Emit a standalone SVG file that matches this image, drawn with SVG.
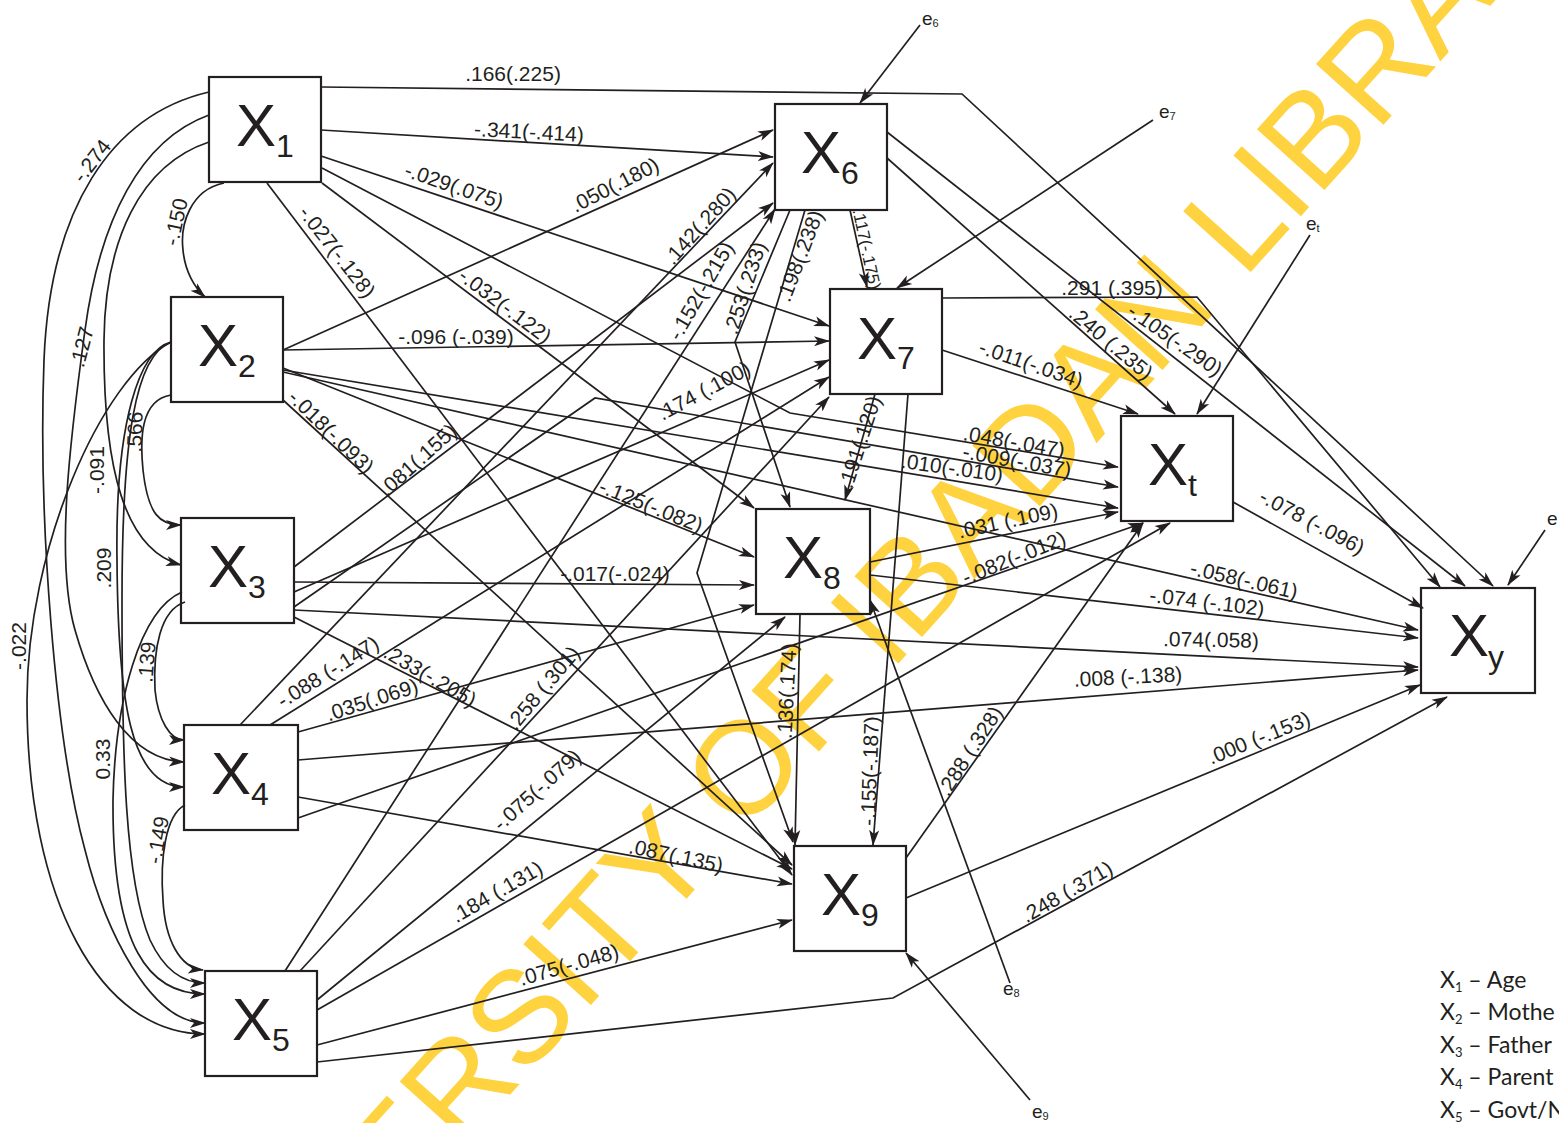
<svg xmlns="http://www.w3.org/2000/svg" width="1559" height="1123" viewBox="0 0 1559 1123">
<defs>
<marker id="ah" markerUnits="userSpaceOnUse" markerWidth="16" markerHeight="12" viewBox="0 0 16 12" refX="15" refY="6" orient="auto"><path d="M0,1 L16,6 L0,11 L4,6 z" fill="#231f20"/></marker>
</defs>
<style>
.wm{font-family:"Liberation Sans",Arial,sans-serif;font-size:132px;fill:#FFD23F}
.c{fill:none;stroke:#231f20;stroke-width:1.7;marker-end:url(#ah)}
.n{fill:none;stroke:#231f20;stroke-width:2.2}
.X{font-family:"Liberation Sans",Arial,sans-serif;font-size:60px;fill:#231f20}
.s{font-size:32px}
.l{font-family:"Liberation Sans",Arial,sans-serif;font-size:21px;fill:#231f20;text-anchor:middle}
.sm{font-size:17px}
.e{font-family:"Liberation Sans",Arial,sans-serif;font-size:19px;fill:#231f20}
.es{font-size:11px}
.lg{font-family:Lato,"Liberation Sans",sans-serif;font-size:23px;fill:#231f20}
.lgs{font-size:13px}
</style>
<text class="wm" transform="translate(190,1450) rotate(-48)">UNIVERSITY OF IBADAN LIBRARY</text>
<g id="connectors">
<path class="c" d="M224,183 C190,190 180,225 183,250 C185,272 195,288 205,297"/>
<path class="c" d="M209,142 C140,165 105,240 104,340 C103,470 125,550 181,565"/>
<path class="c" d="M209,115 C140,140 100,220 85,330 C70,440 55,560 75,630 C95,700 130,760 184,762"/>
<path class="c" d="M209,92 C110,115 50,210 44,360 C38,520 55,740 85,850 C105,930 150,1023 205,1023"/>
<path class="c" d="M171,395 C140,400 140,440 143,470 C148,515 160,525 181,525"/>
<path class="c" d="M171,342 C140,350 115,420 117,560 C118,700 130,787 184,787"/>
<path class="c" d="M171,342 C135,355 122,440 122,600 C122,760 125,880 150,940 C165,972 185,983 205,983"/>
<path class="c" d="M171,342 C100,380 27,550 27,700 C27,900 100,1034 205,1034"/>
<path class="c" d="M182,592 C140,610 115,700 113,800 C112,950 150,994 205,994"/>
<path class="c" d="M185,602 C160,610 153,650 155,690 C158,720 170,740 184,740"/>
<path class="c" d="M185,805 C165,815 160,860 163,900 C165,940 180,968 203,970"/>
<path class="c" d="M321,87 L962,94 L1493,586"/>
<path class="c" d="M321,130 L773,157"/>
<path class="c" d="M321,156 L829,326"/>
<path class="c" d="M322,183 L754,508"/>
<path class="c" d="M267,183 L792,875"/>
<path class="c" d="M322,168 L790,413 L1118,467"/>
<path class="c" d="M283,350 L773,130"/>
<path class="c" d="M283,350 L829,341"/>
<path class="c" d="M283,368 L754,557"/>
<path class="c" d="M283,400 L792,865"/>
<path class="c" d="M283,370 L1118,508"/>
<path class="c" d="M283,372 L1418,630"/>
<path class="c" d="M294,567 L773,203"/>
<path class="c" d="M294,592 L829,360"/>
<path class="c" d="M294,582 L754,585"/>
<path class="c" d="M294,617 L792,869"/>
<path class="c" d="M294,607 L595,398 L1118,487"/>
<path class="c" d="M294,610 L1418,667"/>
<path class="c" d="M240,725 L773,163"/>
<path class="c" d="M270,725 L829,377"/>
<path class="c" d="M298,732 L754,605"/>
<path class="c" d="M298,797 L792,884"/>
<path class="c" d="M298,818 L1143,523"/>
<path class="c" d="M298,760 L1418,670"/>
<path class="c" d="M285,971 L775,209"/>
<path class="c" d="M300,971 L829,397"/>
<path class="c" d="M317,1000 L785,617"/>
<path class="c" d="M317,1045 L792,920"/>
<path class="c" d="M317,1010 L1170,523"/>
<path class="c" d="M317,1062 L893,998 L1447,697"/>
<path class="c" d="M850,210 L867,287"/>
<path class="c" d="M790,210 L735,342 L790,507"/>
<path class="c" d="M805,210 L697,573 L793,842"/>
<path class="c" d="M887,158 L1175,414"/>
<path class="c" d="M887,132 L1465,586"/>
<path class="c" d="M875,394 L845,500"/>
<path class="c" d="M908,394 L873,845"/>
<path class="c" d="M942,350 L1138,414"/>
<path class="c" d="M942,298 L1197,297 L1440,587"/>
<path class="c" d="M800,614 L795,845"/>
<path class="c" d="M870,562 L1118,512"/>
<path class="c" d="M870,575 L1418,638"/>
<path class="c" d="M906,858 L1143,523"/>
<path class="c" d="M906,898 L1420,685"/>
<path class="c" d="M1233,502 L1423,608"/>
<path class="c" d="M920,25 L860,103"/>
<path class="c" d="M1153,120 L897,288"/>
<path class="c" d="M1310,235 L1197,414"/>
<path class="c" d="M1010,983 L870,600"/>
<path class="c" d="M1030,1100 L906,953"/>
<path class="c" d="M1545,530 L1508,585"/>
</g>
<g id="labels">
<text class="l" transform="translate(176,222) rotate(-78)" y="7">-.150</text>
<text class="l" transform="translate(92,161) rotate(-52)" y="7">-.274</text>
<text class="l" transform="translate(82,347) rotate(-75)" y="7">.127</text>
<text class="l" transform="translate(97,470) rotate(-90)" y="7">-.091</text>
<text class="l" transform="translate(135,432) rotate(-88)" y="7">.566</text>
<text class="l" transform="translate(104,568) rotate(-90)" y="7">.209</text>
<text class="l" transform="translate(19,646) rotate(-90)" y="7">-.022</text>
<text class="l" transform="translate(147,662) rotate(-85)" y="7">.139</text>
<text class="l" transform="translate(103,759) rotate(-90)" y="7">0.33</text>
<text class="l" transform="translate(158,840) rotate(-80)" y="7">-.149</text>
<text class="l" transform="translate(513,74)" y="7">.166(.225)</text>
<text class="l" transform="translate(529,132) rotate(3)" y="7">-.341(-.414)</text>
<text class="l" transform="translate(454,186) rotate(19)" y="7">-.029(.075)</text>
<text class="l" transform="translate(615,185) rotate(-27)" y="7">.050(.180)</text>
<text class="l" transform="translate(700,226) rotate(-48)" y="7">.142(.280)</text>
<text class="l" transform="translate(701,291) rotate(-60)" y="7">-.152(-.215)</text>
<text class="l" transform="translate(745,288) rotate(-72)" y="7">.253(.233)</text>
<text class="l" transform="translate(800,256) rotate(-69)" y="7">.198(.238)</text>
<text class="l sm" transform="translate(867,249) rotate(78)" y="6">.117(-.175)</text>
<text class="l" transform="translate(505,306) rotate(37)" y="7">-.032(-.122)</text>
<text class="l" transform="translate(337,252) rotate(52)" y="7">-.027(-.128)</text>
<text class="l" transform="translate(456,337)" y="7">-.096 (-.039)</text>
<text class="l" transform="translate(331,432) rotate(44)" y="7">-.018(-.093)</text>
<text class="l" transform="translate(418,460) rotate(-42)" y="7">.081(.155)</text>
<text class="l" transform="translate(704,391) rotate(-28)" y="7">.174 (.100)</text>
<text class="l" transform="translate(651,506) rotate(22)" y="7">-.125(-.082)</text>
<text class="l" transform="translate(615,574)" y="7">-.017(-.024)</text>
<text class="l" transform="translate(1014,442) rotate(10)" y="7">.048(-.047)</text>
<text class="l" transform="translate(1017,461) rotate(10)" y="7">-.009(-.037)</text>
<text class="l" transform="translate(952,468) rotate(8)" y="7">.010(-.010)</text>
<text class="l" transform="translate(860,442) rotate(-72)" y="7">.191(.120)</text>
<text class="l" transform="translate(1031,364) rotate(19)" y="7">-.011(-.034)</text>
<text class="l" transform="translate(1112,288)" y="7">.291 (.395)</text>
<text class="l" transform="translate(1111,343) rotate(40)" y="7">.240 (.235)</text>
<text class="l" transform="translate(1175,340) rotate(35)" y="7">-.105(-.290)</text>
<text class="l" transform="translate(1008,521) rotate(-12)" y="7">.031 (.109)</text>
<text class="l" transform="translate(1014,558) rotate(-22)" y="7">-.082(-.012)</text>
<text class="l" transform="translate(1312,522) rotate(28)" y="7">-.078 (-.096)</text>
<text class="l" transform="translate(1244,580) rotate(13)" y="7">-.058(-.061)</text>
<text class="l" transform="translate(1207,602) rotate(7)" y="7">-.074 (-.102)</text>
<text class="l" transform="translate(1211,640) rotate(1)" y="7">.074(.058)</text>
<text class="l" transform="translate(1128,677) rotate(-3)" y="7">.008 (-.138)</text>
<text class="l" transform="translate(1259,738) rotate(-22)" y="7">.000 (-.153)</text>
<text class="l" transform="translate(1067,892) rotate(-30)" y="7">.248 (.371)</text>
<text class="l" transform="translate(970,751) rotate(-57)" y="7">.288 (.328)</text>
<text class="l" transform="translate(870,771) rotate(-88)" y="7">-.155(-.187)</text>
<text class="l" transform="translate(787,691) rotate(-87)" y="7">.136(.174)</text>
<text class="l" transform="translate(328,672) rotate(-32)" y="7">-.088 (-.147)</text>
<text class="l" transform="translate(372,700) rotate(-18)" y="7">.035(.069)</text>
<text class="l" transform="translate(430,676) rotate(30)" y="7">.233(-.205)</text>
<text class="l" transform="translate(543,688) rotate(-50)" y="7">.258 (.301)</text>
<text class="l" transform="translate(537,790) rotate(-42)" y="7">-.075(-.079)</text>
<text class="l" transform="translate(676,856) rotate(12)" y="7">.087(.135)</text>
<text class="l" transform="translate(497,892) rotate(-30)" y="7">.184 (.131)</text>
<text class="l" transform="translate(569,965) rotate(-16)" y="7">.075(-.048)</text>
</g>
<g id="X1"><rect class="n" x="209" y="77" width="112" height="105"/><text class="X" x="236" y="146">X</text><text class="X s" x="276" y="157">1</text></g>
<g id="X2"><rect class="n" x="171" y="297" width="112" height="105"/><text class="X" x="198" y="366">X</text><text class="X s" x="238" y="377">2</text></g>
<g id="X3"><rect class="n" x="181" y="518" width="113" height="105"/><text class="X" x="208" y="587">X</text><text class="X s" x="248" y="598">3</text></g>
<g id="X4"><rect class="n" x="184" y="725" width="114" height="105"/><text class="X" x="211" y="794">X</text><text class="X s" x="251" y="805">4</text></g>
<g id="X5"><rect class="n" x="205" y="971" width="112" height="105"/><text class="X" x="232" y="1040">X</text><text class="X s" x="272" y="1051">5</text></g>
<g id="X6"><rect class="n" x="775" y="104" width="112" height="106"/><text class="X" x="801" y="173">X</text><text class="X s" x="841" y="184">6</text></g>
<g id="X7"><rect class="n" x="830" y="289" width="112" height="105"/><text class="X" x="857" y="359">X</text><text class="X s" x="897" y="369">7</text></g>
<g id="X8"><rect class="n" x="756" y="509" width="114" height="105"/><text class="X" x="783" y="578">X</text><text class="X s" x="823" y="589">8</text></g>
<g id="X9"><rect class="n" x="794" y="846" width="112" height="105"/><text class="X" x="821" y="915">X</text><text class="X s" x="861" y="926">9</text></g>
<g id="Xt"><rect class="n" x="1121" y="416" width="112" height="105"/><text class="X" x="1148" y="485">X</text><text class="X s" x="1188" y="496">t</text></g>
<g id="Xy"><rect class="n" x="1421" y="588" width="114" height="105"/><text class="X" x="1449" y="656">X</text><text class="X s" x="1488" y="668">y</text></g>
<g id="errors">
<text class="e" x="922" y="25">e<tspan class="es" dy="2">6</tspan></text>
<text class="e" x="1159" y="118">e<tspan class="es" dy="2">7</tspan></text>
<text class="e" x="1306" y="230">e<tspan class="es" dy="2">t</tspan></text>
<text class="e" x="1003" y="995">e<tspan class="es" dy="2">8</tspan></text>
<text class="e" x="1032" y="1118">e<tspan class="es" dy="2">9</tspan></text>
<text class="e" x="1547" y="525">e</text>
</g>
<g id="legend">
<text class="lg" x="1440" y="988">X<tspan class="lgs" dy="4">1</tspan><tspan dy="-4"> – Age</tspan></text>
<text class="lg" x="1440" y="1020">X<tspan class="lgs" dy="4">2</tspan><tspan dy="-4"> – Mothe</tspan></text>
<text class="lg" x="1440" y="1053">X<tspan class="lgs" dy="4">3</tspan><tspan dy="-4"> – Father</tspan></text>
<text class="lg" x="1440" y="1085">X<tspan class="lgs" dy="4">4</tspan><tspan dy="-4"> – Parent</tspan></text>
<text class="lg" x="1440" y="1118">X<tspan class="lgs" dy="4">5</tspan><tspan dy="-4"> – Govt/N</tspan></text>
</g>
</svg>
